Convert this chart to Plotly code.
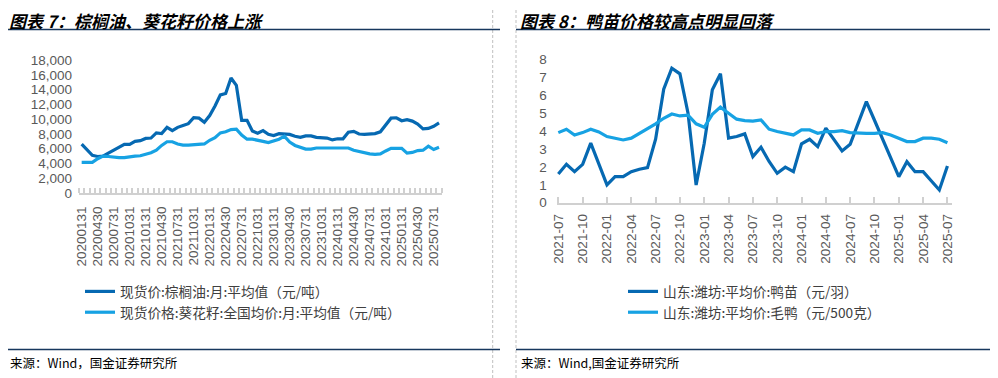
import plotly.graph_objects as go
import pandas as pd

# The page body adds an 8px offset; the figure is sized so that it fills the window.
OFF = 8
FW, FH = 990, 370

# ---------------- data ----------------
palm_oil = [6630, 5800, 5100, 4950, 5000, 5400, 5800, 6250, 6600, 6600, 7000, 7100,
            7400, 7450, 8150, 8050, 8900, 8450, 8900, 9150, 9400, 10200, 10150, 9600,
            10500, 11800, 13300, 13500, 15600, 14600, 9850, 9850, 8400, 8100, 8450, 7950,
            7800, 8050, 7950, 7950, 7700, 7550, 7750, 7750, 7550, 7450, 7450, 7200,
            7350, 7350, 8250, 8350, 8000, 7950, 7950, 8050, 8300, 9200, 10150, 10200,
            9800, 9950, 9750, 9350, 8700, 8750, 9050, 9500]
sunflower = [4150, 4150, 4150, 4650, 5000, 4950, 4850, 4800, 4800, 4950, 5000, 5050,
             5200, 5450, 5800, 6450, 6950, 6950, 6650, 6500, 6500, 6550, 6550, 6650,
             7150, 7500, 8150, 8300, 8600, 8650, 7850, 7300, 7300, 7200, 7000, 6850,
             7050, 7300, 7700, 6900, 6450, 6150, 5950, 5950, 6100, 6100, 6100, 6100,
             6100, 6100, 6100, 5800, 5600, 5400, 5300, 5250, 5300, 5700, 6050, 6050,
             6050, 5400, 5500, 5750, 5800, 6350, 5900, 6200]
left_dates = [d.strftime("%Y%m%d") for d in pd.date_range("2020-01-31", periods=len(palm_oil), freq="ME")]

duckling = [1.60, 2.14, 1.73, 2.14, 3.32, 2.15, 0.99, 1.45, 1.45, 1.73, 1.87, 1.96,
            3.54, 6.33, 7.50, 7.19, 4.99, 0.99, 3.32, 6.30, 7.19, 3.60, 3.69, 3.84,
            2.57, 3.09, 2.30, 1.64, 1.98, 1.73, 3.28, 3.54, 3.13, 4.16, 3.50, 2.89,
            3.26, 4.44, 5.64, 4.60, 3.55, 2.40, 1.45, 2.29, 1.73, 1.73, 1.21, 0.71, 2.05]
duck = [3.91, 4.10, 3.78, 3.91, 4.10, 3.95, 3.69, 3.60, 3.50, 3.60, 3.87, 4.10,
        4.40, 4.71, 4.95, 4.84, 4.88, 4.40, 4.21, 4.93, 5.33, 4.99, 4.66, 4.58,
        4.55, 4.62, 4.10, 3.97, 3.87, 3.78, 4.06, 4.06, 3.87, 3.97, 3.97, 4.02,
        3.91, 3.87, 3.87, 3.87, 3.91, 3.78, 3.60, 3.41, 3.41, 3.60, 3.60, 3.54, 3.35]
right_dates = [d.strftime("%Y-%m") for d in pd.date_range("2021-07-01", periods=len(duckling), freq="MS")]

left_names = ["现货价:棕榈油:月:平均值（元/吨）", "现货价格:葵花籽:全国均价:月:平均值（元/吨）"]
right_names = ["山东:潍坊:平均价:鸭苗（元/羽）", "山东:潍坊:平均价:毛鸭（元/500克）"]
titles = ["图表 7：棕榈油、葵花籽价格上涨", "图表 8：鸭苗价格较高点明显回落"]
sources = ["来源：Wind，国金证券研究所", "来源：Wind,国金证券研究所"]

DARK = "#0669B2"
LIGHT = "#17A2E3"
GRAY = "#595959"
AXIS = "#D0D0D0"
NAVY = "#17375E"
DASH = "#BFBFBF"

def px(x):
    return (x - OFF) / FW

def py(y):
    return 1 - (y - OFF) / FH

fig = go.Figure()
li = list(range(len(palm_oil)))
ri = list(range(len(duckling)))

fig.add_trace(go.Scatter(x=li, y=palm_oil, name=left_names[0], mode="lines",
                         line=dict(color=DARK, width=3.2), xaxis="x", yaxis="y", legend="legend"))
fig.add_trace(go.Scatter(x=li, y=sunflower, name=left_names[1], mode="lines",
                         line=dict(color=LIGHT, width=3.2), xaxis="x", yaxis="y", legend="legend"))
fig.add_trace(go.Scatter(x=ri, y=duckling, name=right_names[0], mode="lines",
                         line=dict(color=DARK, width=3.2), xaxis="x2", yaxis="y2", legend="legend2"))
fig.add_trace(go.Scatter(x=ri, y=duck, name=right_names[1], mode="lines",
                         line=dict(color=LIGHT, width=3.2), xaxis="x2", yaxis="y2", legend="legend2"))

tickfont = dict(family="Liberation Sans, Arial, sans-serif", size=13.5, color=GRAY)
legfont = dict(family="Noto Sans CJK SC", size=13.7, color="#404040")

fig.update_layout(
    width=FW, height=FH,
    margin=dict(l=0, r=0, t=0, b=0, pad=0, autoexpand=False),
    paper_bgcolor="white", plot_bgcolor="white",
    xaxis=dict(domain=[px(79), px(441.7)], range=[-0.5, len(palm_oil) - 0.5],
               tickmode="array", tickvals=li[::3], ticktext=left_dates[::3],
               tickangle=-90, tickfont=tickfont, ticks="", showgrid=False, zeroline=False,
               showline=True, linecolor=AXIS, linewidth=2, ticklabelstandoff=6,
               minor=dict(tickmode="linear", tick0=-0.5, dtick=1, ticks="inside",
                          ticklen=5, tickwidth=1.5, tickcolor=AXIS, showgrid=False),
               anchor="y", automargin=False),
    yaxis=dict(domain=[py(193), py(60.25)], range=[0, 18000], tickvals=list(range(0, 18001, 2000)),
               tickformat=",d", tickfont=tickfont, showgrid=False, zeroline=False, showline=False,
               ticks="", ticklabelstandoff=6, anchor="x", automargin=False),
    xaxis2=dict(domain=[px(556.7), px(952.3)], range=[-0.2, 48.6],
                tickmode="array", tickvals=ri[::3], ticktext=right_dates[::3],
                tickangle=-90, tickfont=tickfont, ticks="inside", ticklen=6, tickwidth=1.5,
                tickcolor=AXIS, showgrid=False, zeroline=False,
                showline=True, linecolor=AXIS, linewidth=2, ticklabelstandoff=4,
                anchor="y2", automargin=False),
    yaxis2=dict(domain=[py(202.7), py(59.3)], range=[0, 8], dtick=1,
                tickfont=tickfont, showgrid=False, zeroline=False, showline=False,
                ticks="", ticklabelstandoff=9, anchor="x2", automargin=False),
    legend=dict(x=px(80), y=py(302), xanchor="left", yanchor="middle", bgcolor="rgba(0,0,0,0)",
                font=legfont, itemclick=False, tracegroupgap=0),
    legend2=dict(x=px(623), y=py(302), xanchor="left", yanchor="middle", bgcolor="rgba(0,0,0,0)",
                 font=legfont, itemclick=False, tracegroupgap=0),
    showlegend=True,
)

shapes = []
# dashed panel borders
for x in (492.7, 516, 997):
    shapes.append(dict(type="line", xref="paper", yref="paper", x0=px(x), x1=px(x), y0=0, y1=1,
                       line=dict(color=DASH, width=1, dash="3px,2px")))
# navy rules
for (a, b) in ((8, 500), (516, 998)):
    for y in (29.5, 349.5):
        shapes.append(dict(type="line", xref="paper", yref="paper", x0=px(a), x1=min(px(b), 1),
                           y0=py(y), y1=py(y), line=dict(color=NAVY, width=1.5)))
fig.update_layout(shapes=shapes)

annotations = []
for t, x in zip(titles, (8, 519)):
    annotations.append(dict(text=t, xref="paper", yref="paper", x=px(x), y=py(20.5),
                            xanchor="left", yanchor="middle", showarrow=False, borderpad=0,
                            font=dict(family="Noto Sans CJK SC", size=17, color="black",
                                      weight="bold", style="italic")))
for s, x in zip(sources, (8, 519)):
    annotations.append(dict(text=s, xref="paper", yref="paper", x=px(x), y=py(362.5),
                            xanchor="left", yanchor="middle", showarrow=False,
                            font=dict(family="Noto Sans CJK SC", size=12.5, color="black")))
fig.update_layout(annotations=annotations)

fig.write_html("out.html")
